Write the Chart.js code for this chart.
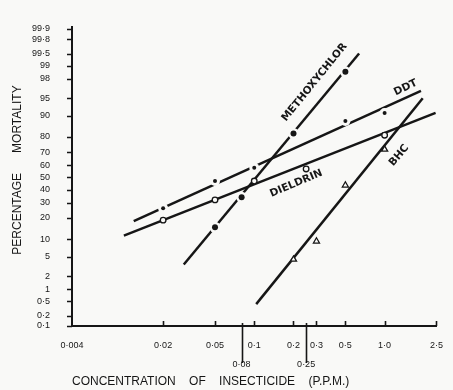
<!DOCTYPE html>
<html>
<head>
<meta charset="utf-8">
<script src="https://cdn.jsdelivr.net/npm/chart.js@4/dist/chart.umd.min.js"></script>
<style>
  html, body { margin: 0; padding: 0; background: #f9f9f7; }
  canvas { display: block; }
</style>
</head>
<body>
<canvas id="chart" width="453" height="390"></canvas>
<script>
// Observed mortality (per cent) at each concentration (p.p.m.)
const methoxychlorConc = [0.05, 0.08, 0.2, 0.5];
const methoxychlorPct  = [15, 34, 82, 98.6];
const ddtConc = [0.02, 0.05, 0.1, 0.5, 1.0];
const ddtPct  = [26, 47, 58, 88, 91];
const dieldrinConc = [0.02, 0.05, 0.1, 0.25, 1.0];
const dieldrinPct  = [18.7, 32, 47, 57, 81];
const bhcConc = [0.2, 0.3, 0.5, 1.0];
const bhcPct  = [4.4, 9.2, 43.5, 72];

// Fitted regression lines: end points (concentration, per cent)
const methoxychlorLineConc = [0.0288, 0.637];
const methoxychlorLinePct  = [3.5, 99.5];
const ddtLineConc = [0.0119, 1.90];
const ddtLinePct  = [18.2, 96.4];
const dieldrinLineConc = [0.0100, 2.46];
const dieldrinLinePct  = [11.3, 91.0];
const bhcLineConc = [0.1035, 1.96];
const bhcLinePct  = [0.42, 95.0];

// Axis ticks
const xTickValues = [0.004, 0.02, 0.05, 0.08, 0.1, 0.2, 0.25, 0.3, 0.5, 1.0, 2.5];
const xTickLabels = ['0·004', '0·02', '0·05', '0·08', '0·1', '0·2', '0·25', '0·3', '0·5', '1·0', '2·5'];
const yTickPercents = [99.9, 99.8, 99.5, 99, 98, 95, 90, 80, 70, 60, 50, 40, 30, 20, 10, 5, 2, 1, 0.5, 0.2, 0.1];
const yTickLabels = ['99·9', '99·8', '99·5', '99', '98', '95', '90', '80', '70', '60', '50', '40', '30', '20', '10', '5', '2', '1', '0·5', '0·2', '0·1'];

// Normal deviate for a probability (Acklam's approximation) – gives the probit axis
function probit(p) {
  const a = [-3.969683028665376e+01, 2.209460984245205e+02, -2.759285104469687e+02, 1.383577518672690e+02, -3.066479806614716e+01, 2.506628277459239e+00];
  const b = [-5.447609879822406e+01, 1.615858368580409e+02, -1.556989798598866e+02, 6.680131188771972e+01, -1.328068155288572e+01];
  const c = [-7.784894002430293e-03, -3.223964580411365e-01, -2.400758277161838e+00, -2.549732539343734e+00, 4.374664141464968e+00, 2.938163982698783e+00];
  const d = [7.784695709041462e-03, 3.224671290700398e-01, 2.445134137142996e+00, 3.754408661907416e+00];
  const plow = 0.02425, phigh = 1 - plow;
  let q, r;
  if (p < plow) {
    q = Math.sqrt(-2 * Math.log(p));
    return (((((c[0]*q+c[1])*q+c[2])*q+c[3])*q+c[4])*q+c[5]) / ((((d[0]*q+d[1])*q+d[2])*q+d[3])*q+1);
  }
  if (p > phigh) {
    q = Math.sqrt(-2 * Math.log(1 - p));
    return -(((((c[0]*q+c[1])*q+c[2])*q+c[3])*q+c[4])*q+c[5]) / ((((d[0]*q+d[1])*q+d[2])*q+d[3])*q+1);
  }
  q = p - 0.5; r = q * q;
  return (((((a[0]*r+a[1])*r+a[2])*r+a[3])*r+a[4])*r+a[5])*q / (((((b[0]*r+b[1])*r+b[2])*r+b[3])*r+b[4])*r+1);
}
const toPoints = (conc, pct) => conc.map((c, i) => ({ x: c, y: probit(pct[i] / 100) }));

const INK = '#161616';
const PAPER = '#f9f9f7';

function fitLine(conc, pct) {
  return { data: toPoints(conc, pct), showLine: true, borderColor: INK, borderWidth: 2.5,
           pointRadius: 0, order: 5 };
}
function halo(conc, pct, r) {
  return { data: toPoints(conc, pct), showLine: false, pointRadius: r, pointBorderWidth: 0,
           pointBackgroundColor: PAPER, pointBorderColor: PAPER, order: 3 };
}

const datasets = [
  fitLine(methoxychlorLineConc, methoxychlorLinePct),
  fitLine(ddtLineConc, ddtLinePct),
  fitLine(dieldrinLineConc, dieldrinLinePct),
  fitLine(bhcLineConc, bhcLinePct),
  halo(methoxychlorConc, methoxychlorPct, 5.5),
  halo(ddtConc, ddtPct, 5),
  { label: 'Methoxychlor', data: toPoints(methoxychlorConc, methoxychlorPct), showLine: false,
    pointRadius: 3, pointBackgroundColor: INK, pointBorderColor: INK, pointBorderWidth: 0, order: 1 },
  { label: 'DDT', data: toPoints(ddtConc, ddtPct), showLine: false,
    pointRadius: 2, pointBackgroundColor: INK, pointBorderColor: INK, pointBorderWidth: 0, order: 1 },
  { label: 'Dieldrin', data: toPoints(dieldrinConc, dieldrinPct), showLine: false,
    pointRadius: 2.8, pointBackgroundColor: PAPER, pointBorderColor: INK, pointBorderWidth: 1.3, order: 1 },
  { label: 'BHC', data: toPoints(bhcConc, bhcPct), showLine: false, pointStyle: 'triangle',
    pointRadius: 3.5, pointBackgroundColor: PAPER, pointBorderColor: INK, pointBorderWidth: 1.3, order: 1 }
];

// Paper background, tick marks and curve names
const paperPlugin = {
  id: 'paper',
  beforeDraw(chart) {
    const ctx = chart.ctx;
    ctx.save();
    ctx.fillStyle = PAPER;
    ctx.fillRect(0, 0, chart.width, chart.height);
    ctx.restore();
  }
};

const tickMarksPlugin = {
  id: 'tickMarks',
  afterDraw(chart, args, opts) {
    const ctx = chart.ctx;
    const xs = chart.scales.x, ys = chart.scales.y;
    const area = chart.chartArea;
    ctx.save();
    ctx.strokeStyle = INK;
    ctx.lineWidth = 1.6;
    ctx.beginPath();
    yTickPercents.forEach(p => {
      const y = Math.round(ys.getPixelForValue(probit(p / 100))) + 0.5;
      ctx.moveTo(area.left - 5, y);
      ctx.lineTo(area.left, y);
    });
    xTickValues.forEach(v => {
      if (v === xs.min) return;
      const x = Math.round(xs.getPixelForValue(v)) + 0.5;
      if (opts.lowered.includes(v)) {
        ctx.moveTo(x, area.bottom - 3);
        ctx.lineTo(x, area.bottom + 37);
      } else {
        ctx.moveTo(x, area.bottom - 5);
        ctx.lineTo(x, area.bottom);
      }
    });
    ctx.stroke();
    ctx.restore();
  }
};

const curveLabelsPlugin = {
  id: 'curveLabels',
  afterDatasetsDraw(chart, args, opts) {
    const ctx = chart.ctx;
    const xs = chart.scales.x, ys = chart.scales.y;
    ctx.save();
    ctx.fillStyle = INK;
    ctx.font = opts.font;
    ctx.textAlign = 'center';
    ctx.textBaseline = 'middle';
    opts.items.forEach(it => {
      const px = xs.getPixelForValue(it.conc);
      const py = ys.getPixelForValue(probit(it.pct / 100));
      ctx.save();
      ctx.translate(px, py);
      ctx.rotate(it.angle * Math.PI / 180);
      ctx.fillText(it.text, 0, 0);
      ctx.restore();
    });
    ctx.restore();
  }
};

new Chart(document.getElementById('chart'), {
  type: 'scatter',
  data: { datasets },
  plugins: [paperPlugin, tickMarksPlugin, curveLabelsPlugin],
  options: {
    responsive: false,
    devicePixelRatio: 1,
    animation: false,
    layout: { padding: { top: 16, right: 9, left: 0, bottom: 0 } },
    plugins: {
      legend: { display: false },
      tooltip: { enabled: false },
      tickMarks: { lowered: [0.08, 0.25] },
      curveLabels: {
        font: 'bold 10.5px "DejaVu Sans"',
        items: [
          { text: 'METHOXYCHLOR', conc: 0.29, pct: 97.6, angle: -51 },
          { text: 'DDT', conc: 1.45, pct: 96.9, angle: -26 },
          { text: 'DIELDRIN', conc: 0.21, pct: 45, angle: -23 },
          { text: 'BHC', conc: 1.29, pct: 67.6, angle: -50 }
        ]
      }
    },
    scales: {
      x: {
        type: 'logarithmic',
        min: 0.004,
        max: 2.5,
        bounds: 'data',
        afterBuildTicks: s => { s.ticks = xTickValues.map(v => ({ value: v })); },
        afterFit: s => { s.height = 64; },
        grid: { display: false, drawTicks: false },
        border: { display: true, color: INK, width: 2 },
        ticks: {
          autoSkip: false, maxRotation: 0, minRotation: 0, padding: 10,
          color: INK,
          font: { family: '"Liberation Sans", Arial, sans-serif', size: 9, lineHeight: 19 / 9 },
          callback: (v, i) => [0.08, 0.25].includes(xTickValues[i]) ? ['', xTickLabels[i]] : xTickLabels[i]
        },
        title: {
          display: true, align: 'start',
          text: 'CONCENTRATION    OF    INSECTICIDE    (P.P.M.)',
          color: INK,
          font: { family: '"Liberation Sans", Arial, sans-serif', size: 12 },
          padding: { top: 0, bottom: 1 }
        }
      },
      y: {
        type: 'linear',
        min: probit(0.001),
        max: 3.12,
        bounds: 'data',
        afterBuildTicks: s => { s.ticks = yTickPercents.map(p => ({ value: probit(p / 100) })); },
        afterFit: s => { s.width = 72; },
        grid: { display: false, drawTicks: false },
        border: { display: true, color: INK, width: 2 },
        ticks: {
          autoSkip: false, padding: 22, color: INK,
          font: { family: '"Liberation Sans", Arial, sans-serif', size: 9, lineHeight: 1.2 },
          callback: (v, i) => yTickLabels[i]
        },
        title: {
          display: true,
          text: '    PERCENTAGE      MORTALITY',
          color: INK,
          font: { family: '"Liberation Sans", Arial, sans-serif', size: 12 },
          padding: { top: 10, bottom: 0 }
        }
      }
    }
  }
});
</script>
</body>
</html>
